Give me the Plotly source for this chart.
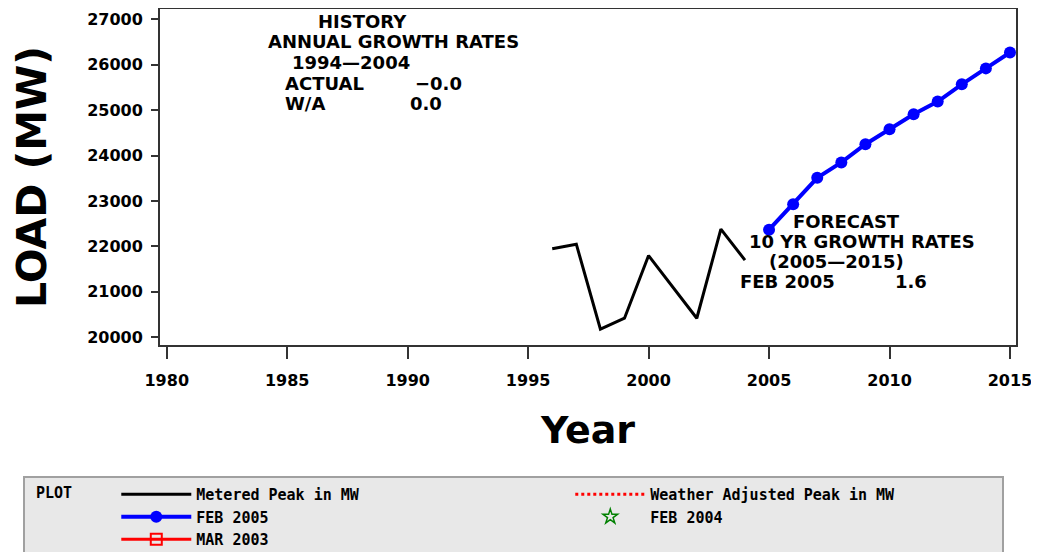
import plotly.graph_objects as go

# ---- data ----
metered_years = [1996, 1997, 1998, 1999, 2000, 2001, 2002, 2003, 2004]
metered_mw = [21950, 22050, 20180, 20420, 21800, 21100, 20420, 22380, 21700]

feb2005_years = [2005, 2006, 2007, 2008, 2009, 2010, 2011, 2012, 2013, 2014, 2015]
feb2005_mw = [22370, 22930, 23510, 23850, 24250, 24580, 24910, 25190, 25570, 25920, 26270]

x_ticks = [1980, 1985, 1990, 1995, 2000, 2005, 2010, 2015]
y_ticks = [20000, 21000, 22000, 23000, 24000, 25000, 26000, 27000]

# page body has an 8px default margin; size the figure so it fills the window
OFF = 8
W, H = 1039 - OFF, 552 - OFF
# plot area in window pixels: x 160..1016, y 9..345
ML, MR, MT, MB = 160 - OFF, 1039 - 1016, 9 - OFF, 552 - 345
PW, PH = W - ML - MR, H - MT - MB

def px(xs):
    return (xs - OFF - ML) / PW

def py(ys):
    return (H - MB - (ys - OFF)) / PH

COL1_W, COL2_W = 369, 346

fig = go.Figure()

fig.add_trace(go.Scatter(
    x=metered_years, y=metered_mw, mode="lines", name="Metered Peak in MW",
    line=dict(color="black", width=3), legendrank=1, legendwidth=COL1_W))
fig.add_trace(go.Scatter(
    x=[None], y=[None], mode="lines", name="Weather Adjusted Peak in MW",
    line=dict(color="red", width=3, dash="dot"), legendrank=2, legendwidth=COL2_W))
fig.add_trace(go.Scatter(
    x=feb2005_years, y=feb2005_mw, mode="lines+markers", name="FEB 2005",
    line=dict(color="#0000ff", width=4),
    marker=dict(color="#0000ff", size=12, symbol="circle"), legendrank=3, legendwidth=COL1_W))
fig.add_trace(go.Scatter(
    x=[None], y=[None], mode="markers", name="FEB 2004",
    marker=dict(color="green", size=11, symbol="star-open", line=dict(width=1.5, color="green")),
    legendrank=4, legendwidth=COL2_W))
fig.add_trace(go.Scatter(
    x=[None], y=[None], mode="lines+markers", name="MAR 2003",
    line=dict(color="red", width=3),
    marker=dict(color="red", size=11, symbol="square-open", line=dict(width=2, color="red")),
    legendrank=5, legendwidth=COL1_W))

tick_font = dict(family="DejaVu Sans", size=16, color="black", weight="bold")
ann_font = dict(family="DejaVu Sans", size=18, color="black", weight="bold")

annotations = []
def add_text(text, xs, ys, anchor="center"):
    annotations.append(dict(text=text, x=px(xs), y=py(ys), xref="paper", yref="paper",
                            xanchor=anchor, yanchor="middle", showarrow=False, font=ann_font))

add_text("HISTORY", 362, 22)
add_text("ANNUAL GROWTH RATES", 393, 42)
add_text("1994—2004", 351, 63)
add_text("ACTUAL", 283, 83, "left")
add_text("−0.0", 413, 83, "left")
add_text("W/A", 283, 103, "left")
add_text("0.0", 408, 103, "left")

add_text("FORECAST", 846, 221)
add_text("10 YR GROWTH RATES", 862, 241)
add_text("(2005—2015)", 836, 261)
add_text("FEB 2005", 738, 281, "left")
add_text("1.6", 893, 281, "left")

leg_font = dict(family="DejaVu Sans Mono", size=15, color="black", weight="bold")

fig.update_layout(
    width=W, height=H,
    margin=dict(l=ML, r=MR, t=MT, b=MB, autoexpand=False),
    paper_bgcolor="white", plot_bgcolor="white",
    showlegend=True,
    annotations=annotations,
    legend=dict(
        orientation="h",
        x=px(23), y=py(476), xanchor="left", yanchor="top",
        xref="paper", yref="paper",
        bgcolor="#e8e8e8", bordercolor="#a0a0a0", borderwidth=2,
        font=leg_font,
        title=dict(text=" PLOT    ", side="left", font=leg_font),
        itemwidth=70,
        traceorder="normal",
        itemclick=False, itemdoubleclick=False,
    ),
)

fig.update_xaxes(
    range=[1979.72, 2015.25], tickvals=x_ticks, ticktext=[str(v) for v in x_ticks],
    showgrid=False, zeroline=False,
    showline=True, linecolor="#333333", linewidth=2, mirror=True,
    ticks="outside", ticklen=12, tickwidth=2, tickcolor="#333333",
    tickfont=tick_font, ticklabelstandoff=8,
    title=dict(text="Year", font=dict(family="DejaVu Sans", size=38, color="black", weight="bold"),
               standoff=27),
)
fig.update_yaxes(
    range=[19831, 27227], tickvals=y_ticks, ticktext=[str(v) for v in y_ticks],
    showgrid=False, zeroline=False,
    showline=True, linecolor="#333333", linewidth=2, mirror=True,
    ticks="outside", ticklen=7, tickwidth=2, tickcolor="#333333",
    tickfont=tick_font, ticklabelstandoff=5,
    title=dict(text="LOAD (MW)", font=dict(family="DejaVu Sans", size=41, color="black", weight="bold"),
               standoff=30),
)

fig.write_html("out.html")
